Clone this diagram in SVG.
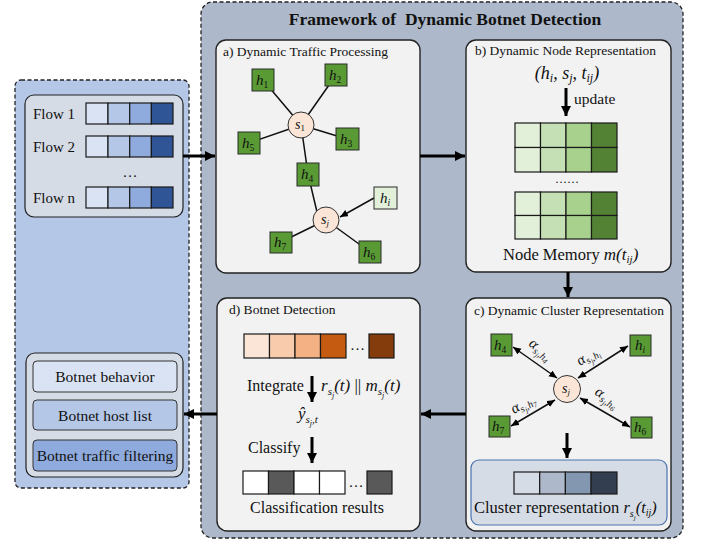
<svg xmlns="http://www.w3.org/2000/svg" width="702" height="545" viewBox="0 0 702 545" font-family="'Liberation Serif', 'Times New Roman', serif">
<defs>
<style>
text{font-family:"Liberation Serif","Times New Roman",serif;fill:#111}
.t13{font-size:13.5px}
.t15{font-size:15px}
.t16{font-size:16px}
.it{font-style:italic}
.panel{fill:#f2f2f2;stroke:#222;stroke-width:1.4}
.gn{fill:#5a9a35;stroke:#2a2a2a;stroke-width:1}
.gl{fill:#e2f0d9;stroke:#2a2a2a;stroke-width:1}
.cir{fill:#fbe5d6;stroke:#333;stroke-width:1}
.cell{stroke:#1a1a1a;stroke-width:1.2}
.ln{stroke:#111;stroke-width:1.5;fill:none}
.thk{stroke:#000;stroke-width:3;fill:none}
.htx{font-size:15px;font-style:italic;text-anchor:middle}
.sub{font-size:9.5px}
.al{font-style:italic;font-size:15px}
.a1{font-size:10px}
.a2{font-size:7.5px}
</style>
<marker id="big" markerUnits="userSpaceOnUse" markerWidth="12" markerHeight="12" refX="10" refY="5" orient="auto">
<path d="M0,0 L10,5 L0,10 z" fill="#000"/>
</marker>
<marker id="sm" markerUnits="userSpaceOnUse" markerWidth="9" markerHeight="9" refX="8" refY="3.5" orient="auto-start-reverse">
<path d="M0,0 L8,3.5 L0,7 z" fill="#000"/>
</marker>
</defs>

<!-- big containers -->
<g id="input-panel">
<rect x="15" y="80" width="174" height="408" rx="6" fill="#b4c7e7" stroke="#222" stroke-width="1.3" stroke-dasharray="4,2.5"/>
</g>
<g id="framework">
<rect x="201" y="2" width="482" height="536" rx="12" fill="#adb9ca" stroke="#222" stroke-width="1.3" stroke-dasharray="4,2.5"/>
<text x="445" y="25" text-anchor="middle" style="font-size:17.5px;font-weight:bold">Framework of&#160; Dynamic Botnet Detection</text>
</g>

<!-- Flows -->
<g id="flows">
<rect x="25" y="95" width="158" height="122" rx="9" fill="#d6dce5" stroke="#222" stroke-width="1.2"/>
<text x="33" y="119" class="t15">Flow 1</text>
<text x="33" y="152" class="t15">Flow 2</text>
<text x="33" y="203" class="t15">Flow n</text>
<text x="130" y="177" text-anchor="middle" class="t15">…</text>
<g class="cell">
<rect x="86" y="103" width="22" height="21" fill="#dae3f3"/><rect x="108" y="103" width="21.7" height="21" fill="#b4c7e7"/><rect x="129.7" y="103" width="21.7" height="21" fill="#8faadc"/><rect x="151.4" y="103" width="21.6" height="21" fill="#2f5597"/>
<rect x="86" y="136" width="22" height="21" fill="#dae3f3"/><rect x="108" y="136" width="21.7" height="21" fill="#b4c7e7"/><rect x="129.7" y="136" width="21.7" height="21" fill="#8faadc"/><rect x="151.4" y="136" width="21.6" height="21" fill="#2f5597"/>
<rect x="86" y="187" width="22" height="21" fill="#dae3f3"/><rect x="108" y="187" width="21.7" height="21" fill="#b4c7e7"/><rect x="129.7" y="187" width="21.7" height="21" fill="#8faadc"/><rect x="151.4" y="187" width="21.6" height="21" fill="#2f5597"/>
</g>
</g>

<!-- Outputs -->
<g id="outputs">
<rect x="26" y="353" width="157" height="124" rx="9" fill="#d6dce5" stroke="#222" stroke-width="1.2"/>
<rect x="33" y="361" width="144" height="31" rx="4" fill="#dae3f3" stroke="#333" stroke-width="1"/>
<rect x="33" y="400" width="144" height="30" rx="4" fill="#b4c7e7" stroke="#333" stroke-width="1"/>
<rect x="33" y="440" width="144" height="31" rx="4" fill="#8faadc" stroke="#333" stroke-width="1"/>
<text x="105" y="382" text-anchor="middle" style="font-size:15.5px">Botnet behavior</text>
<text x="105" y="421" text-anchor="middle" style="font-size:15.5px">Botnet host list</text>
<text x="105" y="461" text-anchor="middle" style="font-size:15.5px">Botnet traffic filtering</text>
</g>

<!-- Panel a -->
<g id="panel-a">
<rect x="216" y="40" width="204" height="233" rx="10" class="panel"/>
<text x="223" y="56" class="t13">a) Dynamic Traffic Processing</text>
</g>
<g id="panel-a-edges">
<path class="ln" d="M263,80 L301,125 M336,75 L301,125 M249,143 L301,125 M347,139 L301,125 M301,125 L308,174 L317,212 M326,220 L281,242 M326,220 L370,252"/>
<line x1="374" y1="198" x2="340" y2="217" class="ln" marker-end="url(#sm)"/>
</g>
<g id="panel-a-nodes">
<rect x="252" y="69" width="22" height="22" class="gn"/><text x="262" y="85" class="htx">h<tspan class="sub" dy="3" style="font-style:normal">1</tspan></text>
<rect x="325" y="64" width="22" height="22" class="gn"/><text x="335" y="80" class="htx">h<tspan class="sub" dy="3" style="font-style:normal">2</tspan></text>
<rect x="238" y="132" width="22" height="22" class="gn"/><text x="248" y="148" class="htx">h<tspan class="sub" dy="3" style="font-style:normal">5</tspan></text>
<rect x="336" y="128" width="23" height="22" class="gn"/><text x="346" y="144" class="htx">h<tspan class="sub" dy="3" style="font-style:normal">3</tspan></text>
<rect x="297" y="163" width="22" height="23" class="gn"/><text x="307" y="179" class="htx">h<tspan class="sub" dy="3" style="font-style:normal">4</tspan></text>
<rect x="374" y="187" width="23" height="22" class="gl"/><text x="385" y="203" class="htx">h<tspan class="sub" dy="3">i</tspan></text>
<rect x="270" y="232" width="22" height="21" class="gn"/><text x="280" y="247" class="htx">h<tspan class="sub" dy="3" style="font-style:normal">7</tspan></text>
<rect x="359" y="241" width="22" height="22" class="gn"/><text x="369" y="257" class="htx">h<tspan class="sub" dy="3" style="font-style:normal">6</tspan></text>
<circle cx="301" cy="125" r="13" class="cir"/><text x="300" y="129" class="htx" style="font-size:14px">s<tspan dy="2" style="font-style:normal;font-size:9px">1</tspan></text>
<circle cx="326" cy="220" r="13" class="cir"/><text x="325" y="224" class="htx" style="font-size:14px">s<tspan dy="2" style="font-size:9px">j</tspan></text>
</g>

<!-- Panel b -->
<g id="panel-b">
<rect x="466" y="40" width="205" height="232" rx="10" class="panel"/>
<text x="475" y="55" class="t13">b) Dynamic Node Representation</text>
<text x="567" y="79" text-anchor="middle" class="it" style="font-size:18px">(h<tspan style="font-size:12px" dy="3">i</tspan><tspan dy="-3">, s</tspan><tspan style="font-size:12px" dy="3">j</tspan><tspan dy="-3">, t</tspan><tspan style="font-size:12px" dy="3">ij</tspan><tspan dy="-3">)</tspan></text>
<text x="574" y="104" style="font-size:15.5px">update</text>
<g class="cell">
<rect x="515" y="123" width="25.5" height="24.5" fill="#e2f0d9"/><rect x="540.5" y="123" width="25.5" height="24.5" fill="#c5e0b4"/><rect x="566" y="123" width="25.5" height="24.5" fill="#a9d18e"/><rect x="591.5" y="123" width="25.5" height="24.5" fill="#548235"/>
<rect x="515" y="147.5" width="25.5" height="24.5" fill="#e2f0d9"/><rect x="540.5" y="147.5" width="25.5" height="24.5" fill="#c5e0b4"/><rect x="566" y="147.5" width="25.5" height="24.5" fill="#a9d18e"/><rect x="591.5" y="147.5" width="25.5" height="24.5" fill="#548235"/>
<rect x="515" y="192" width="25.5" height="23.5" fill="#e2f0d9"/><rect x="540.5" y="192" width="25.5" height="23.5" fill="#c5e0b4"/><rect x="566" y="192" width="25.5" height="23.5" fill="#a9d18e"/><rect x="591.5" y="192" width="25.5" height="23.5" fill="#548235"/>
<rect x="515" y="215.5" width="25.5" height="23.5" fill="#e2f0d9"/><rect x="540.5" y="215.5" width="25.5" height="23.5" fill="#c5e0b4"/><rect x="566" y="215.5" width="25.5" height="23.5" fill="#a9d18e"/><rect x="591.5" y="215.5" width="25.5" height="23.5" fill="#548235"/>
</g>
<text x="567" y="183" text-anchor="middle" style="font-size:12px">……</text>
<text x="503" y="260" style="font-size:16.5px">Node Memory <tspan class="it" style="font-size:17px">m(t</tspan><tspan class="it" style="font-size:11px" dy="3">ij</tspan><tspan class="it" style="font-size:17px" dy="-3">)</tspan></text>
</g>

<!-- Panel c -->
<g id="panel-c">
<rect x="466" y="298" width="205" height="233" rx="10" class="panel"/>
<text x="474" y="315" class="t13">c) Dynamic Cluster Representation</text>
<rect x="471" y="460" width="196" height="65" rx="8" fill="#d6dce5" stroke="#4a72b0" stroke-width="1.2"/>
<g class="cell">
<rect x="514" y="472" width="25.7" height="22" fill="#d6dce5"/><rect x="539.7" y="472" width="25.7" height="22" fill="#adb9ca"/><rect x="565.4" y="472" width="25.7" height="22" fill="#8497b0"/><rect x="591.1" y="472" width="25.9" height="22" fill="#333f50"/>
</g>
<text x="474" y="513" style="font-size:16.5px">Cluster representation <tspan class="it">r</tspan><tspan class="it" style="font-size:10px" dy="4">s</tspan><tspan class="it" style="font-size:7px" dy="3">j</tspan><tspan class="it" dy="-7">(t</tspan><tspan class="it" style="font-size:10px" dy="3">ij</tspan><tspan class="it" dy="-3">)</tspan></text>
</g>
<g id="panel-c-edges">
<line x1="513" y1="347" x2="557" y2="378" class="ln" stroke-width="1.3" marker-start="url(#sm)" marker-end="url(#sm)"/>
<line x1="628" y1="346" x2="578" y2="378" class="ln" stroke-width="1.3" marker-start="url(#sm)" marker-end="url(#sm)"/>
<line x1="555" y1="400" x2="511" y2="426" class="ln" stroke-width="1.3" marker-start="url(#sm)" marker-end="url(#sm)"/>
<line x1="580" y1="398" x2="630" y2="427" class="ln" stroke-width="1.3" marker-start="url(#sm)" marker-end="url(#sm)"/>
<text transform="translate(528,345) rotate(38)" class="al">α<tspan class="a1" dy="3">s</tspan><tspan class="a2" dy="2">j</tspan><tspan class="a1" dy="-2">,h</tspan><tspan class="a2" dy="2">4</tspan></text>
<text transform="translate(580,366) rotate(-32)" class="al">α<tspan class="a1" dy="3">s</tspan><tspan class="a2" dy="2">j</tspan><tspan class="a1" dy="-2">,h</tspan><tspan class="a2" dy="2">i</tspan></text>
<text transform="translate(514,414) rotate(-30)" class="al">α<tspan class="a1" dy="3">s</tspan><tspan class="a2" dy="2">j</tspan><tspan class="a1" dy="-2">,h</tspan><tspan class="a2" dy="2">7</tspan></text>
<text transform="translate(594,394) rotate(33)" class="al">α<tspan class="a1" dy="3">s</tspan><tspan class="a2" dy="2">j</tspan><tspan class="a1" dy="-2">,h</tspan><tspan class="a2" dy="2">6</tspan></text>
<line x1="567" y1="433" x2="567" y2="458" class="thk" marker-end="url(#big)"/>
</g>
<g id="panel-c-nodes">
<rect x="491" y="334" width="21" height="22" class="gn"/><text x="500" y="350" class="htx">h<tspan class="sub" dy="3" style="font-style:normal">4</tspan></text>
<rect x="630" y="335" width="21" height="21" class="gn"/><text x="640" y="350" class="htx">h<tspan class="sub" dy="3">i</tspan></text>
<rect x="489" y="416" width="21" height="21" class="gn"/><text x="498" y="431" class="htx">h<tspan class="sub" dy="3" style="font-style:normal">7</tspan></text>
<rect x="631" y="417" width="21" height="21" class="gn"/><text x="640" y="432" class="htx">h<tspan class="sub" dy="3" style="font-style:normal">6</tspan></text>
<circle cx="567" cy="389" r="13.5" class="cir"/><text x="566" y="393" class="htx" style="font-size:14px">s<tspan style="font-size:9px" dy="2">j</tspan></text>
</g>

<!-- Panel d -->
<g id="panel-d">
<rect x="217" y="298" width="203" height="233" rx="10" class="panel"/>
<text x="229" y="314" class="t13">d) Botnet Detection</text>
<g class="cell">
<rect x="244" y="334" width="25.5" height="24" fill="#fbe5d6"/><rect x="269.5" y="334" width="25.5" height="24" fill="#f8cbad"/><rect x="295" y="334" width="25.5" height="24" fill="#f4b183"/><rect x="320.5" y="334" width="25.5" height="24" fill="#c55a11"/>
<rect x="369" y="334" width="25" height="24" fill="#843c0c"/>
<rect x="243" y="471" width="25.5" height="23" fill="#ffffff"/><rect x="268.5" y="471" width="25.5" height="23" fill="#595959"/><rect x="294" y="471" width="25.5" height="23" fill="#ffffff"/><rect x="319.5" y="471" width="25.5" height="23" fill="#ffffff"/>
<rect x="367" y="471" width="25" height="23" fill="#595959"/>
</g>
<text x="357.5" y="350" text-anchor="middle" class="t15">…</text>
<text x="356" y="487" text-anchor="middle" class="t15">…</text>
<text x="247" y="391" class="t16">Integrate</text>
<text x="321" y="391" class="it" style="font-size:17px">r<tspan style="font-size:11px" dy="4">s</tspan><tspan style="font-size:8px" dy="3">j</tspan><tspan dy="-7">(t) </tspan><tspan style="font-style:normal">||</tspan><tspan> m</tspan><tspan style="font-size:11px" dy="4">s</tspan><tspan style="font-size:8px" dy="3">j</tspan><tspan dy="-7">(t)</tspan></text>
<text x="298" y="419" class="it" style="font-size:17px">ŷ<tspan style="font-size:11px" dy="4">s</tspan><tspan style="font-size:8px" dy="3">j</tspan><tspan style="font-size:11px" dy="-3">,t</tspan></text>
<text x="248" y="453" class="t16">Classify</text>
<text x="317" y="513" text-anchor="middle" class="t16">Classification results</text>
<line x1="312" y1="376" x2="312" y2="402" class="thk" marker-end="url(#big)"/>
<line x1="312" y1="437" x2="312" y2="463" class="thk" marker-end="url(#big)"/>
</g>

<g id="panel-b-arrow">
<line x1="566" y1="88" x2="566" y2="116" class="thk" marker-end="url(#big)"/>
</g>

<!-- connectors between panels -->
<g id="connectors">
<line x1="183" y1="156" x2="215" y2="156" class="thk" marker-end="url(#big)"/>
<line x1="420" y1="156" x2="465" y2="156" class="thk" marker-end="url(#big)"/>
<line x1="568" y1="272" x2="568" y2="297" class="thk" marker-end="url(#big)"/>
<line x1="466" y1="414" x2="421" y2="414" class="thk" marker-end="url(#big)"/>
<line x1="217" y1="414" x2="184" y2="414" class="thk" marker-end="url(#big)"/>
</g>
</svg>
